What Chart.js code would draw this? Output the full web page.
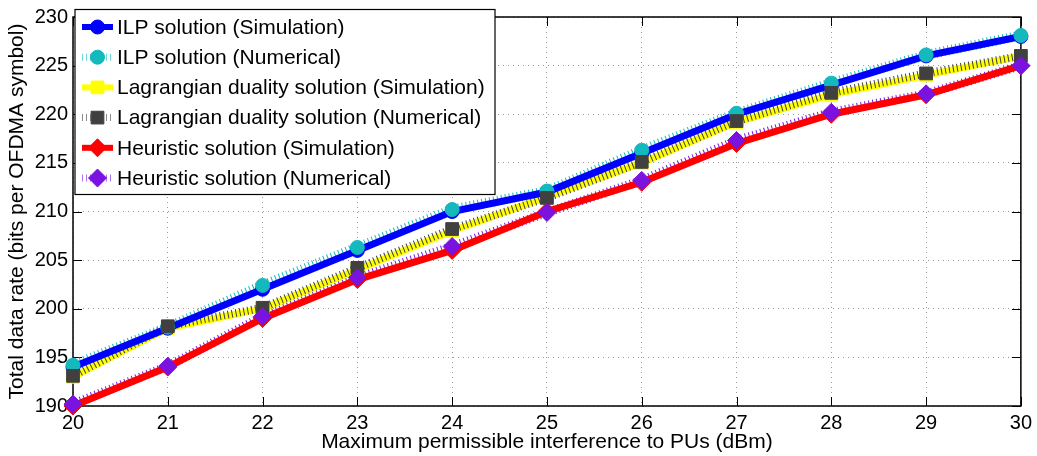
<!DOCTYPE html>
<html>
<head>
<meta charset="utf-8">
<script src="https://cdn.jsdelivr.net/npm/chart.js@4.4.1/dist/chart.umd.min.js"></script>
<style>
  html, body { margin: 0; padding: 0; background: #ffffff; }
  #wrap { width: 1037px; height: 456px; position: relative; }
</style>
</head>
<body>
<div id="wrap"><canvas id="c" width="1037" height="456"></canvas></div>
<script>
// ---- data ----
const xValues = [20, 21, 22, 23, 24, 25, 26, 27, 28, 29, 30];
const ilpSim   = [194, 198, 202, 206, 210, 212, 216, 220, 223, 226, 228];
const ilpNum   = [194.2, 198.1, 202.4, 206.3, 210.2, 212.1, 216.3, 220.1, 223.2, 226.1, 228.1];
const lagSim   = [193, 198, 200, 204, 208, 211.5, 215, 219.2, 222, 224, 226];
const lagNum   = [193.1, 198.2, 200.1, 204.2, 208.2, 211.4, 215.1, 219.3, 222.2, 224.2, 226.0];
const heurSim  = [190, 194, 199, 203, 206, 210, 213, 217, 220, 222, 225];
const heurNum  = [190.2, 194.1, 199.2, 203.2, 206.4, 209.9, 213.2, 217.3, 220.2, 222.1, 225.0];
const seriesLabels = [
  'ILP solution (Simulation)',
  'ILP solution (Numerical)',
  'Lagrangian duality solution (Simulation)',
  'Lagrangian duality solution (Numerical)',
  'Heuristic solution (Simulation)',
  'Heuristic solution (Numerical)'
];
const xTitle = 'Maximum permissible interference to PUs (dBm)';
const yTitle = 'Total data rate (bits per OFDMA symbol)';
const xMin = 20, xMax = 30, xStep = 1;
const yMin = 190, yMax = 230, yStep = 5;

const FONT = '"Liberation Sans", Arial, Helvetica, sans-serif';
const pts = arr => arr.map((v, i) => ({ x: xValues[i], y: v }));

const C = {
  blue: '#0000ff', cyan: '#14b9bd', yellow: '#ffff00', dark: '#404040',
  red: '#ff0000', purple: '#7a12e0'
};

// style per legend entry (index matches seriesLabels)
const legendStyles = [
  { color: C.blue,   width: 6, dash: null,   marker: 'circle',  mColor: C.blue,   r: 7 },
  { color: C.cyan,   width: 7, dash: [1, 3], marker: 'circle',  mColor: C.cyan,   r: 7 },
  { color: C.yellow, width: 6, dash: null,   marker: 'rect',    mColor: C.yellow, r: 9 },
  { color: C.dark,   width: 7, dash: [1, 3], marker: 'rect',    mColor: C.dark,   r: 9 },
  { color: C.red,    width: 6, dash: null,   marker: 'rectRot', mColor: C.red,    r: 9 },
  { color: C.purple, width: 7, dash: [1, 3], marker: 'rectRot', mColor: C.purple, r: 9 }
];

function lineDs(label, data, color, width, dash, order) {
  return {
    label, data: pts(data), borderColor: color, backgroundColor: color,
    borderWidth: width, borderDash: dash || [], pointRadius: 0, pointHoverRadius: 0,
    tension: 0, fill: false, clip: false, order
  };
}
function markDs(label, data, style, color, r, order) {
  return {
    label, data: pts(data), showLine: false, pointStyle: style,
    pointRadius: r, pointHoverRadius: r, pointBackgroundColor: color,
    pointBorderColor: color, pointBorderWidth: 1, clip: false, order
  };
}

// higher order = drawn first (underneath)
const datasets = [
  lineDs(seriesLabels[5], heurNum, C.purple, 9, [1, 3], 100),
  lineDs(seriesLabels[4], heurSim, C.red, 7, null, 95),
  markDs(seriesLabels[4], heurSim, 'rectRot', C.red, 9, 94),
  lineDs(seriesLabels[2], lagSim, C.yellow, 7, null, 90),
  markDs(seriesLabels[2], lagSim, 'rect', C.yellow, 9, 89),
  lineDs(seriesLabels[3], lagNum, C.dark, 8, [1, 3], 85),
  lineDs(seriesLabels[1], ilpNum, C.cyan, 10, [1, 3], 80),
  lineDs(seriesLabels[0], ilpSim, C.blue, 7, null, 75),
  markDs(seriesLabels[0], ilpSim, 'circle', C.blue, 7, 74),
  markDs(seriesLabels[1], ilpNum, 'circle', C.cyan, 7, 60),
  markDs(seriesLabels[3], lagNum, 'rect', C.dark, 9, 55),
  markDs(seriesLabels[5], heurNum, 'rectRot', C.purple, 9, 50)
];

// frame + inward ticks (below data)
const framePlugin = {
  id: 'frame',
  beforeDatasetsDraw(chart) {
    const { ctx, chartArea: a, scales: { x, y } } = chart;
    ctx.save();
    ctx.strokeStyle = '#000';
    ctx.lineWidth = 1.5;
    ctx.strokeRect(a.left, a.top, a.right - a.left, a.bottom - a.top);
    const tl = 9;
    ctx.lineWidth = 1;
    ctx.beginPath();
    for (let v = xMin; v <= xMax; v += xStep) {
      const px = Math.round(x.getPixelForValue(v)) + 0.5;
      ctx.moveTo(px, a.bottom); ctx.lineTo(px, a.bottom - tl);
      ctx.moveTo(px, a.top); ctx.lineTo(px, a.top + tl);
    }
    for (let v = yMin; v <= yMax; v += yStep) {
      const py = Math.round(y.getPixelForValue(v)) + 0.5;
      ctx.moveTo(a.left, py); ctx.lineTo(a.left + tl, py);
      ctx.moveTo(a.right, py); ctx.lineTo(a.right - tl, py);
    }
    ctx.stroke();
    ctx.restore();
  }
};

function drawMarker(ctx, style, cx, cy, r) {
  Chart.helpers.drawPoint(ctx, { pointStyle: style, rotation: 0, radius: r, borderWidth: 1 }, cx, cy);
}

// legend box inside plot (top-left)
const legendPlugin = {
  id: 'boxLegend',
  afterDraw(chart) {
    const { ctx } = chart;
    const bx = 75, by = 9.5, bw = 420, bh = 185;
    ctx.save();
    ctx.fillStyle = '#fff';
    ctx.fillRect(bx, by, bw, bh);
    ctx.strokeStyle = '#000';
    ctx.lineWidth = 1.2;
    ctx.strokeRect(bx, by, bw, bh);
    ctx.font = '21px ' + FONT;
    ctx.textBaseline = 'middle';
    ctx.textAlign = 'left';
    seriesLabels.forEach((lab, i) => {
      const st = legendStyles[i];
      const cy = 27 + i * 30.2;
      ctx.save();
      ctx.strokeStyle = st.color;
      ctx.lineWidth = st.width;
      ctx.setLineDash(st.dash || []);
      if (st.dash) ctx.globalAlpha = 0.6;
      ctx.beginPath(); ctx.moveTo(82, cy); ctx.lineTo(113, cy); ctx.stroke();
      ctx.restore();
      ctx.save();
      ctx.fillStyle = st.mColor; ctx.strokeStyle = st.mColor; ctx.lineWidth = 1;
      drawMarker(ctx, st.marker, 97.5, cy, st.r);
      ctx.restore();
      ctx.fillStyle = '#000';
      ctx.fillText(lab, 117, cy + 1);
    });
    ctx.restore();
  }
};

new Chart(document.getElementById('c'), {
  type: 'line',
  data: { datasets },
  options: {
    responsive: false,
    animation: false,
    events: [],
    layout: { padding: { top: 14, right: 14, left: 0, bottom: 0 } },
    plugins: { legend: { display: false }, tooltip: { enabled: false } },
    scales: {
      x: {
        type: 'linear', min: xMin, max: xMax,
        afterFit: s => { s.height = 50; },
        ticks: { stepSize: xStep, color: '#000', font: { family: FONT, size: 20 }, padding: 5, maxRotation: 0 },
        grid: { color: '#999999', lineWidth: 1, drawTicks: false },
        border: { display: false, dash: [1, 4] },
        title: { display: true, text: xTitle, color: '#000', font: { family: FONT, size: 21 }, padding: { top: 0, bottom: 1 } }
      },
      y: {
        type: 'linear', min: yMin, max: yMax,
        afterFit: s => { s.width = 73; },
        ticks: { stepSize: yStep, color: '#000', font: { family: FONT, size: 20 }, padding: 5 },
        grid: { color: '#999999', lineWidth: 1, drawTicks: false },
        border: { display: false, dash: [1, 4] },
        title: { display: true, text: yTitle, color: '#000', font: { family: FONT, size: 21 }, padding: { top: 5, bottom: 0 } }
      }
    }
  },
  plugins: [framePlugin, legendPlugin]
});
</script>
</body>
</html>
